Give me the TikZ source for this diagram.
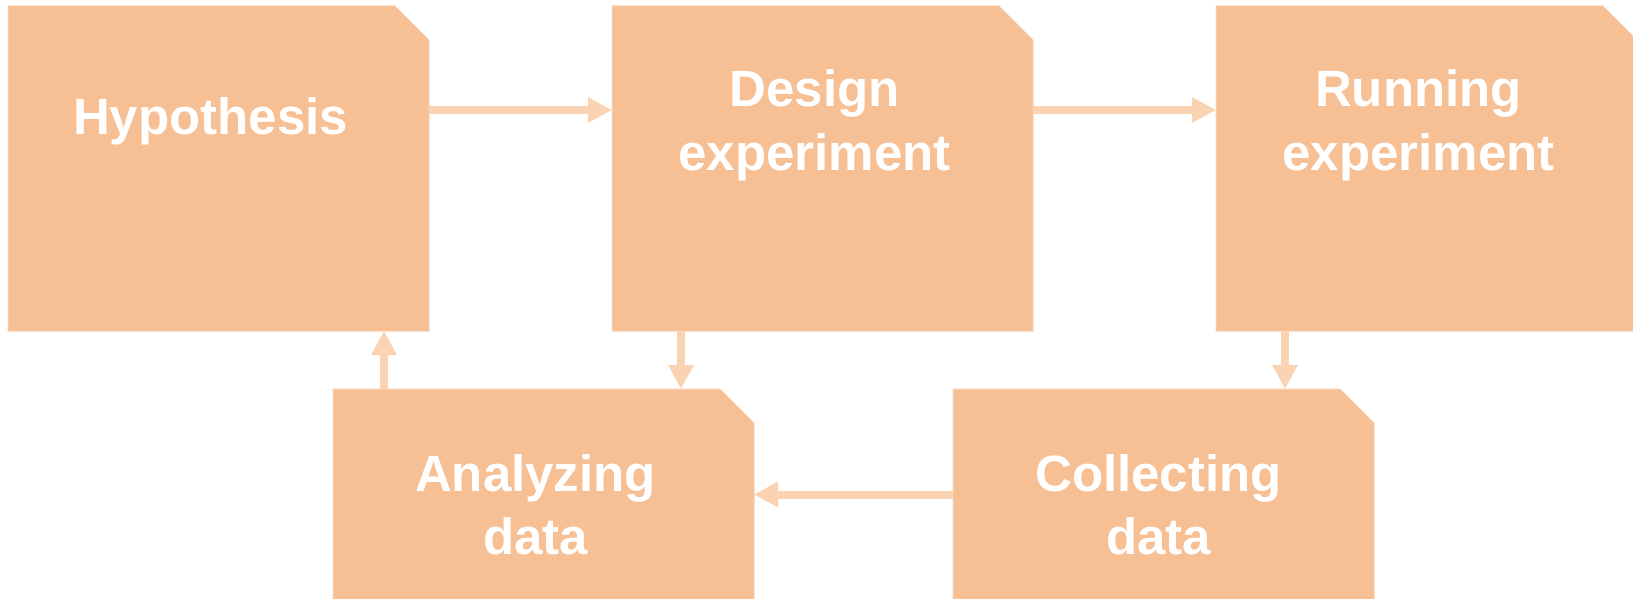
\documentclass[tikz,border=0pt]{standalone}
\usepackage{fontspec}
\setmainfont{Liberation Sans}
\usetikzlibrary{arrows.meta}
\definecolor{boxfill}{RGB}{247,191,148}
\definecolor{boxedge}{RGB}{250,212,184}
\definecolor{arrowc}{RGB}{249,211,178}
\newcommand{\cutbox}[3]{%
  \path[boxshape] (#2,-#3) -- ++(387,0) -- ++(34,-34) -- ++(0,-291) -- ++(-421,0) -- cycle;
  \node[boxanchor, anchor=north west] (#1) at (#2,-#3) {};}
\begin{document}
\begin{tikzpicture}[x=1pt,y=1pt,
  boxshape/.style={fill=boxfill, draw=boxedge, line width=1pt},
  boxanchor/.style={inner sep=0pt, outer sep=0pt, minimum width=421pt, minimum height=325pt},
  label/.style={text=white, font=\bfseries\fontsize{51}{61}\selectfont, inner sep=0pt, anchor=base},
  arr/.style={draw=arrowc, line width=8pt, -{Triangle[length=24pt,width=24pt]}}]
\useasboundingbox (0,0) rectangle (1633,-599);
\clip (0,0) rectangle (1633,-599);
\fill[white] (0,0) rectangle (1633,-599);
\cutbox{hyp}{8}{6}
\cutbox{des}{612}{6}
\cutbox{run}{1216}{6}
\cutbox{ana}{333}{389}
\cutbox{col}{953}{389}
% texts
\node[label] (hypA) at ([xshift=-8pt,yshift=33.5pt]hyp.center) {Hypothesis};
\node[label] (desA) at ([xshift=-8pt,yshift=61.5pt]des.center) {Design};
\node[label] (desB) at ([xshift=-8pt,yshift=-1.5pt]des.center) {experiment};
\node[label] (runA) at ([xshift=-8pt,yshift=61.5pt]run.center) {Running};
\node[label] (runB) at ([xshift=-8pt,yshift=-1.5pt]run.center) {experiment};
\node[label] (anaA) at ([xshift=-8pt,yshift=60.5pt]ana.center) {Analyzing};
\node[label] (anaB) at ([xshift=-8pt,yshift=-2.5pt]ana.center) {data};
\node[label] (colA) at ([xshift=-5pt,yshift=60.5pt]col.center) {Collecting};
\node[label] (colB) at ([xshift=-5pt,yshift=-2.5pt]col.center) {data};
% connectors
\coordinate (rowtop) at (0,-110);
\coordinate (rowbot) at (0,-494.5);
\coordinate (colD) at (681,0);
\coordinate (colR) at (1285,0);
\coordinate (colH) at (384,0);
\draw[arr] (hyp.east |- rowtop) -- (des.west |- rowtop);
\draw[arr] (des.east |- rowtop) -- (run.west |- rowtop);
\draw[arr] (colD |- des.south) -- (colD |- ana.north);
\draw[arr] (colR |- run.south) -- (colR |- col.north);
\draw[arr] (col.west |- rowbot) -- (ana.east |- rowbot);
\draw[arr] (colH |- ana.north) -- (colH |- hyp.south);
\end{tikzpicture}
\end{document}
